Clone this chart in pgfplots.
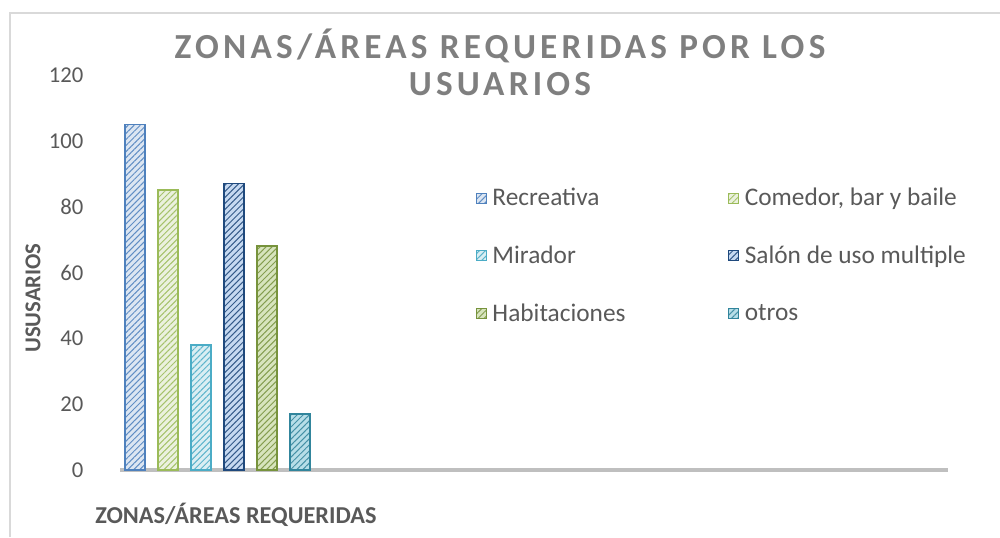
\documentclass[border=0pt]{standalone}
\usepackage{fontspec}
\setmainfont{Carlito}
\newfontfamily\titlefont[LetterSpace=12]{Carlito}
\usepackage{pgfplots}
\pgfplotsset{compat=1.18}
\usetikzlibrary{patterns.meta}

\definecolor{txt}{HTML}{595959}
\definecolor{ttl}{HTML}{7F7F7F}
\definecolor{floor}{HTML}{BFBFBF}
\definecolor{frame}{HTML}{D9D9D9}
\definecolor{cA}{HTML}{4F81BD}\definecolor{fA}{HTML}{DCE6F2}
\definecolor{cB}{HTML}{9BBB59}\definecolor{fB}{HTML}{EBF1DE}
\definecolor{cC}{HTML}{4BACC6}\definecolor{fC}{HTML}{DAEEF3}
\definecolor{cD}{HTML}{1F497D}\definecolor{fD}{HTML}{C6D9F1}
\definecolor{cE}{HTML}{77933C}\definecolor{fE}{HTML}{D7E4BD}
\definecolor{cF}{HTML}{31859C}\definecolor{fF}{HTML}{B7DEE8}

\pgfplotsset{
  hbar/.style 2 args={draw=#1, line width=1.1pt, fill=#2, bar shift=0pt,
    postaction={pattern={Lines[angle=45,distance=3.2pt,line width=0.75pt]}, pattern color=#1!90}},
}

\begin{document}
\begin{tikzpicture}
\path[use as bounding box] (0,0) rectangle (750pt,402.75pt);
% chart frame (only left and top visible)
\draw[frame, line width=0.8pt] (7.5pt,0) -- (7.5pt,393pt) -- (750pt,393pt);

\begin{axis}[
  at={(90pt,50.25pt)}, anchor=south west,
  scale only axis, width=621pt, height=296.25pt,
  ybar, bar width=15pt,
  xmin=-0.4545, xmax=24.64,
  ymin=0, ymax=120,
  axis lines*=left,
  axis line style={-},
  x axis line style={draw=floor, line width=3pt},
  y axis line style={draw=none},
  xtick=\empty,
  ytick={0,20,...,120},
  major tick length=0pt,
  yticklabel style={font=\fontsize{17}{20}\selectfont, text=txt, anchor=east, xshift=-24pt},
  /pgf/number format/assume math mode=true,
  legend image code/.code={\draw[#1, line width=0.8pt] (0pt,-3.8pt) rectangle (7.6pt,3.8pt);
    \path (9.5pt,0pt);},
  legend columns=2,
  legend cell align=left,
  legend style={at={(0.4295,0.7205)}, anchor=north west, draw=none, fill=none,
    inner sep=0pt, font=\fontsize{19}{22}\selectfont, text=txt, row sep=24.5pt,
    /tikz/every even column/.append style={column sep=75pt}},
  clip=false,
]
\addplot[hbar={cA}{fA}] coordinates {(0,105)};
\addlegendentry{Recreativa}
\addplot[hbar={cB}{fB}] coordinates {(1,85)};
\addlegendentry{Comedor, bar y baile}
\addplot[hbar={cC}{fC}] coordinates {(2,38)};
\addlegendentry{Mirador}
\addplot[hbar={cD}{fD}] coordinates {(3,87)};
\addlegendentry{Salón de uso multiple}
\addplot[hbar={cE}{fE}] coordinates {(4,68)};
\addlegendentry{Habitaciones}
\addplot[hbar={cF}{fF}] coordinates {(5,17)};
\addlegendentry{otros}
\end{axis}

\node[align=center, text=ttl, font=\titlefont\fontsize{26.4}{28}\selectfont\bfseries]
  at (375pt,356pt) {ZONAS/ÁREAS REQUERIDAS POR LOS\\USUARIOS};
\node[rotate=90, text=txt, font=\fontsize{17}{20}\selectfont\bfseries]
  at (24.75pt,179.25pt) {USUSARIOS};
\node[anchor=west, text=txt, font=\fontsize{18.2}{20}\selectfont\bfseries, inner sep=0pt]
  at (71.25pt,16.5pt) {ZONAS/ÁREAS REQUERIDAS};
\end{tikzpicture}
\end{document}
